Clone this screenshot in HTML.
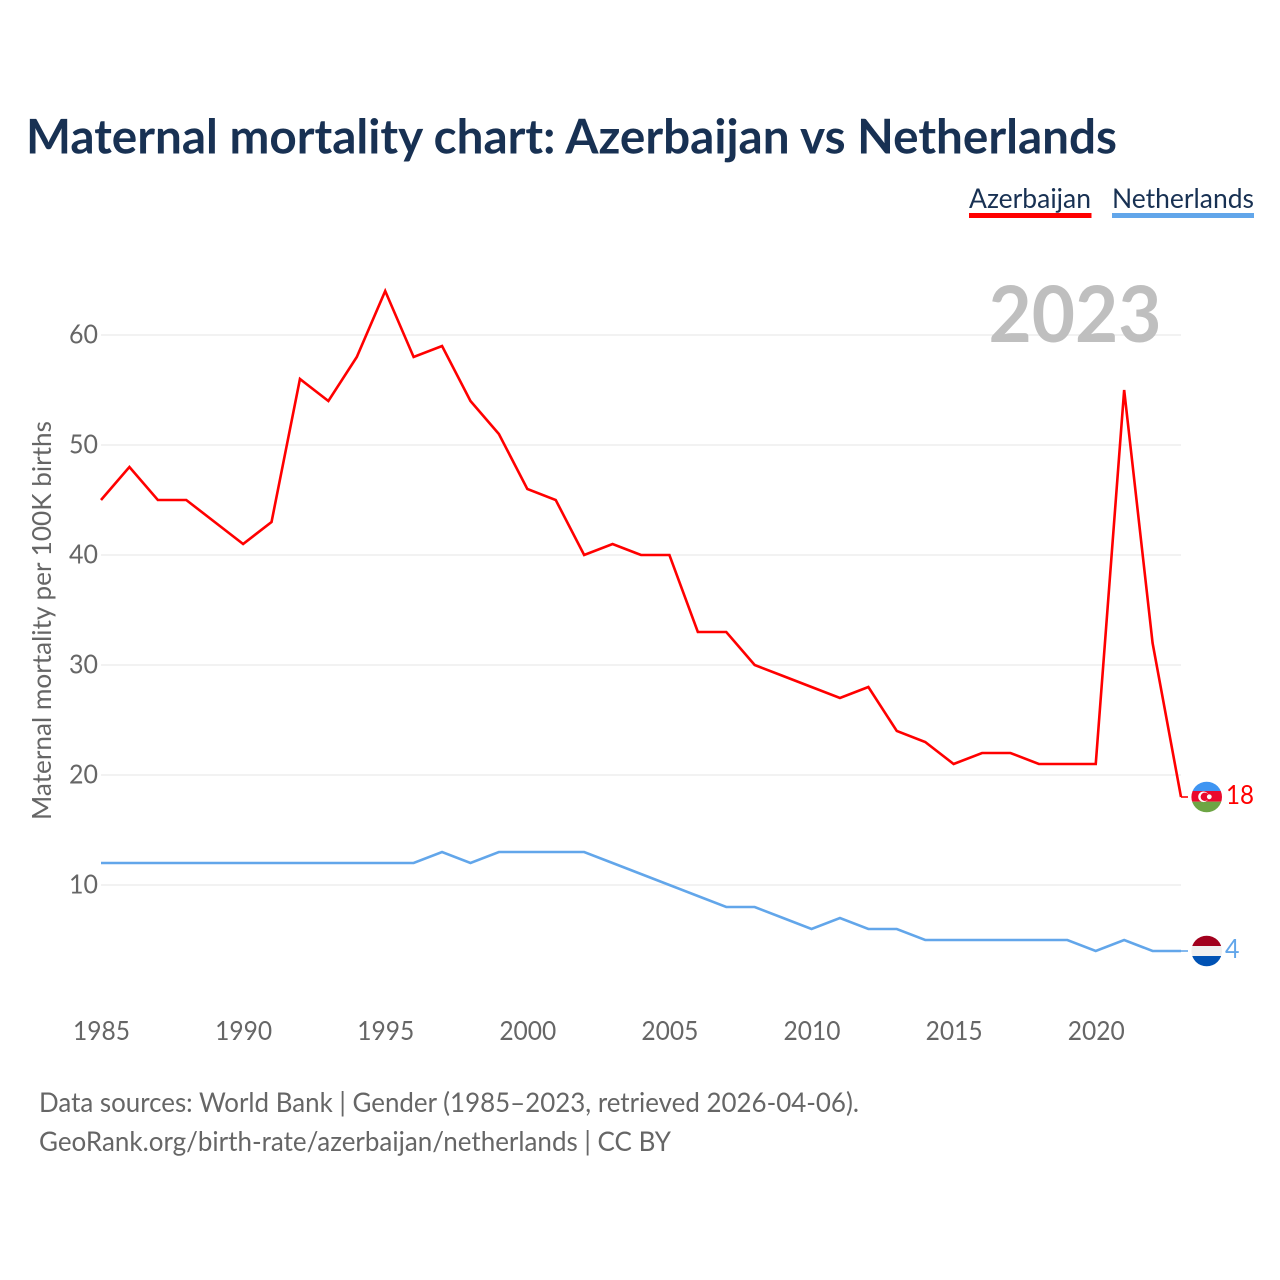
<!DOCTYPE html>
<html lang="en">
<head>
<meta charset="utf-8">
<title>Maternal mortality chart: Azerbaijan vs Netherlands</title>
<style>
html,body{margin:0;padding:0;background:#fff;}
svg{display:block;font-family:Lato,Carlito,"Liberation Sans",sans-serif;}
</style>
</head>
<body>
<svg id="chart" xmlns="http://www.w3.org/2000/svg" width="1280" height="1280" viewBox="0 0 1280 1280">
  <defs>
    <clipPath id="flag-clip"><circle cx="0" cy="0" r="15.3"/></clipPath>
  </defs>
  <rect x="0" y="0" width="1280" height="1280" fill="#fff"/>
  <text x="26" y="153.5" font-size="48" font-weight="700" fill="#183153" textLength="1091" lengthAdjust="spacingAndGlyphs">Maternal mortality chart: Azerbaijan vs Netherlands</text>

  <g>
    <g>
      <text x="969" y="208" font-size="27" fill="#183153" textLength="122" lengthAdjust="spacingAndGlyphs">Azerbaijan</text>
      <rect x="969" y="213" width="122.5" height="5" fill="#ff0000"/>
    </g>
    <g>
      <text x="1112" y="208" font-size="27" fill="#183153" textLength="142" lengthAdjust="spacingAndGlyphs">Netherlands</text>
      <rect x="1112" y="213" width="142" height="5" fill="#62a6ea"/>
    </g>
  </g>

  <g id="grid"></g>
  <text x="1075" y="342" text-anchor="middle" font-size="78" font-weight="700" fill="#bfbfbf" textLength="173" lengthAdjust="spacingAndGlyphs">2023</text>
  <g id="y-ticks"></g>
  <g id="x-ticks"></g>
  <text transform="translate(51,820) rotate(-90)" font-size="26" fill="#666" textLength="399" lengthAdjust="spacingAndGlyphs">Maternal mortality per 100K births</text>
  <g id="series"></g>
  <g id="ends"></g>

  <g>
    <text x="39" y="1112" font-size="27" fill="#666" textLength="820" lengthAdjust="spacingAndGlyphs">Data sources: World Bank | Gender (1985–2023, retrieved 2026-04-06).</text>
    <text x="39" y="1151" font-size="27" fill="#666" textLength="632" lengthAdjust="spacingAndGlyphs">GeoRank.org/birth-rate/azerbaijan/netherlands | CC BY</text>
  </g>
</svg>
<script>
const firstYear = 1985;
const lastYear = 2023;
const azerbaijanValues = [45,48,45,45,43,41,43,56,54,58,64,58,59,54,51,46,45,40,41,40,40,33,33,30,29,28,27,28,24,23,21,22,22,21,21,21,55,32,18];
const netherlandsValues = [12,12,12,12,12,12,12,12,12,12,12,12,13,12,13,13,13,13,12,11,10,9,8,8,7,6,7,6,6,5,5,5,5,5,5,4,5,4,4];
const yTickValues = [10,20,30,40,50,60];
const xTickValues = [1985,1990,1995,2000,2005,2010,2015,2020];

const NS = 'http://www.w3.org/2000/svg';
const plotLeft = 101, plotRight = 1181;
const y10 = 885, y60 = 335;
function xScale(year) { return plotLeft + (year - firstYear) * (plotRight - plotLeft) / (lastYear - firstYear); }
function yScale(v) { return y10 + (v - 10) * (y60 - y10) / 50; }
function make(tag, attrs, parent, text) {
  const el = document.createElementNS(NS, tag);
  for (const k in attrs) el.setAttribute(k, attrs[k]);
  if (text !== undefined) el.textContent = text;
  parent.appendChild(el);
  return el;
}

const gridGroup = document.getElementById('grid');
const yGroup = document.getElementById('y-ticks');
yTickValues.forEach(function (v) {
  const line = make('line', {x1: plotLeft, x2: plotRight, y1: yScale(v), y2: yScale(v), stroke: '#eeeeee', 'stroke-width': 1.5}, gridGroup);
  
  
  const label = make('text', {x: 98, y: yScale(v) + 8.5, 'text-anchor': 'end', 'font-size': 26, fill: '#666', textLength: 29, lengthAdjust: 'spacingAndGlyphs'}, yGroup, String(v));
  
  
});

const xGroup = document.getElementById('x-ticks');
xTickValues.forEach(function (yr) {
  const label = make('text', {x: xScale(yr) + 0.5, y: 1040, 'text-anchor': 'middle', 'font-size': 26, fill: '#666', textLength: 57, lengthAdjust: 'spacingAndGlyphs'}, xGroup, String(yr));
  
  
});

function pathFor(values) {
  return values.map(function (v, i) {
    return (i ? 'L' : 'M') + xScale(firstYear + i).toFixed(2) + ' ' + yScale(v).toFixed(2);
  }).join(' ');
}
const seriesGroup = document.getElementById('series');
const azLine = make('path', {d: pathFor(azerbaijanValues), fill: 'none', stroke: '#ff0000', 'stroke-width': 2.6, 'stroke-linejoin': 'miter'}, seriesGroup);


const nlLine = make('path', {d: pathFor(netherlandsValues), fill: 'none', stroke: '#62a6ea', 'stroke-width': 2.6, 'stroke-linejoin': 'miter'}, seriesGroup);



const endsGroup = document.getElementById('ends');
const flagX = 1206.7;

/* Azerbaijan end marker */
const azVal = azerbaijanValues[azerbaijanValues.length - 1];
const azY = yScale(azVal);
const azConn = make('line', {x1: plotRight, x2: 1188, y1: azY, y2: azY, stroke: '#ff0000', 'stroke-width': 1.6}, endsGroup);


const azFlag = make('g', {transform: 'translate(' + flagX + ',' + azY + ')', 'clip-path': 'url(#flag-clip)'}, endsGroup);


make('rect', {x: -16, y: -16, width: 32, height: 10, fill: '#3f95f2'}, azFlag);
make('rect', {x: -16, y: -6, width: 32, height: 10.7, fill: '#ea0a2d'}, azFlag);
make('rect', {x: -16, y: 4.7, width: 32, height: 11.3, fill: '#6da544'}, azFlag);
make('circle', {cx: -3.2, cy: -0.2, r: 5.3, fill: '#fff'}, azFlag);
make('circle', {cx: -1.9, cy: -0.2, r: 4.2, fill: '#ea0a2d'}, azFlag);
make('circle', {cx: 2.6, cy: -0.2, r: 2.4, fill: '#fff'}, azFlag);
const azLabel = make('text', {x: 1226, y: azY + 7, 'font-size': 26, fill: '#ff0000', textLength: 28, lengthAdjust: 'spacingAndGlyphs'}, endsGroup, String(azVal));



/* Netherlands end marker */
const nlVal = netherlandsValues[netherlandsValues.length - 1];
const nlY = yScale(nlVal);
const nlConn = make('line', {x1: plotRight, x2: 1188, y1: nlY, y2: nlY, stroke: '#62a6ea', 'stroke-width': 1.6}, endsGroup);


const nlFlag = make('g', {transform: 'translate(' + flagX + ',' + nlY + ')', 'clip-path': 'url(#flag-clip)'}, endsGroup);


make('rect', {x: -16, y: -16, width: 32, height: 11, fill: '#a2001d'}, nlFlag);
make('rect', {x: -16, y: -5, width: 32, height: 10, fill: '#f0f0f0'}, nlFlag);
make('rect', {x: -16, y: 5, width: 32, height: 11, fill: '#0052b4'}, nlFlag);
const nlLabel = make('text', {x: 1225, y: nlY + 7, 'font-size': 26, fill: '#62a6ea', textLength: 14.5, lengthAdjust: 'spacingAndGlyphs'}, endsGroup, String(nlVal));


</script>
</body>
</html>
